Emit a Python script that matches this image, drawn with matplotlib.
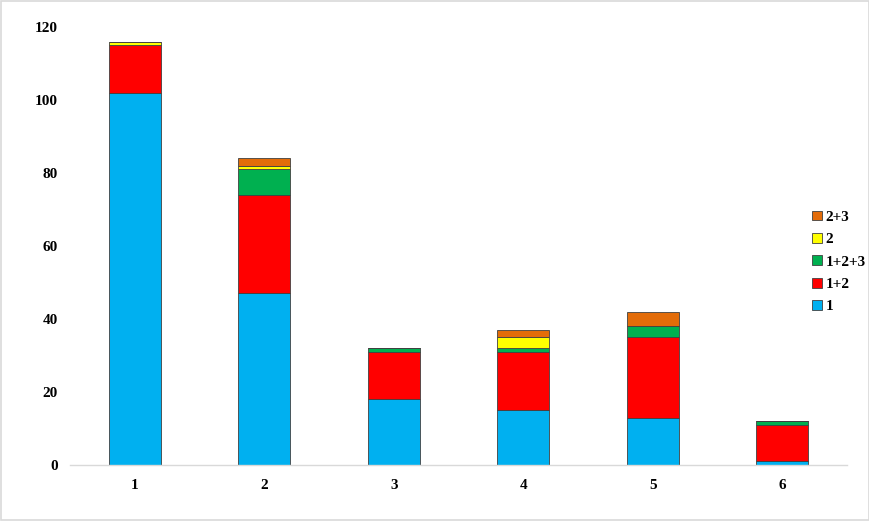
import matplotlib
matplotlib.use('Agg')
import matplotlib.pyplot as plt
from matplotlib.patches import Rectangle
import numpy as np

# Datos
categorias = ['1', '2', '3', '4', '5', '6']
serie_1 = [102, 47, 18, 15, 13, 1]
serie_12 = [13, 27, 13, 16, 22, 10]
serie_123 = [0, 7, 1, 1, 3, 1]
serie_2 = [1, 1, 0, 3, 0, 0]
serie_23 = [0, 2, 0, 2, 4, 0]

etiquetas = ['1', '1+2', '1+2+3', '2', '2+3']
colores = ['#00B0F0', '#FF0000', '#00B050', '#FFFF00', '#E36C09']

plt.rcParams['font.family'] = ['Liberation Serif', 'DejaVu Serif']

fig = plt.figure(figsize=(8.7, 5.21), dpi=100)
ax = fig.add_axes([0.0805, 0.1075, 0.893, 0.8405])

x = np.arange(1, len(categorias) + 1)
base = np.zeros(len(categorias))
for vals, lab, col in zip([serie_1, serie_12, serie_123, serie_2, serie_23], etiquetas, colores):
    ax.bar(x, vals, width=0.4, bottom=base, color=col, edgecolor='#404040',
           linewidth=0.6, label=lab)
    base += np.array(vals)

ax.set_xlim(0.5, 6.5)
ax.set_ylim(0, 120)
ax.set_yticks(range(0, 121, 20))
ax.set_xticks(x)
ax.set_xticklabels(categorias)
for lbl in ax.get_xticklabels() + ax.get_yticklabels():
    lbl.set_fontweight('bold')
    lbl.set_fontsize(11)
ax.tick_params(axis='x', length=0, pad=10)
ax.tick_params(axis='y', length=0, pad=9)

for s in ['top', 'right', 'left']:
    ax.spines[s].set_visible(False)
ax.spines['bottom'].set_color('#D9D9D9')
ax.spines['bottom'].set_linewidth(1)

handles, labels = ax.get_legend_handles_labels()
leg = ax.legend(handles[::-1], labels[::-1], loc='center left',
                bbox_to_anchor=(0.918, 0.497), bbox_transform=fig.transFigure,
                frameon=False, handlelength=0.6, handleheight=0.6,
                handletextpad=0.25, labelspacing=0.6,
                prop={'weight': 'bold', 'size': 11})

# marco exterior gris
fig.patches.append(Rectangle((0.001, 0.001), 0.998, 0.997, transform=fig.transFigure,
                             fill=False, edgecolor='#D9D9D9', linewidth=1.2))

fig.savefig('out.png', dpi=100, facecolor='white')
